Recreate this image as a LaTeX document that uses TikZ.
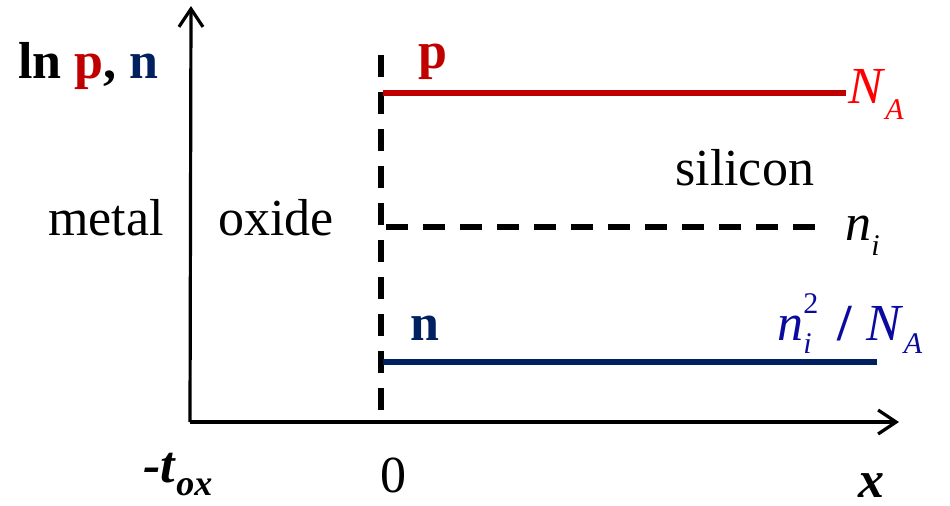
\documentclass[tikz,border=0pt]{standalone}
\usepackage{fontspec}
\setmainfont{Liberation Serif}
\usepackage{xcolor}
\usetikzlibrary{arrows.meta}
\definecolor{dkred}{HTML}{C00000}
\definecolor{brred}{HTML}{FF0000}
\definecolor{navy}{HTML}{002060}
\definecolor{dkblue}{HTML}{0A0AA0}
\newcommand{\lowidx}[2][8pt]{\raisebox{-#1}{\fontsize{15}{15}\selectfont #2}}
\newcommand{\highidx}[2][13.5pt]{\raisebox{#1}{\fontsize{15}{15}\selectfont #2}}

\begin{document}
\begin{tikzpicture}[x=0.5pt,y=-0.5pt,font=\fontsize{26}{30}\selectfont,
  ax/.style={line width=1.6pt,-{Straight Barb[length=9pt,width=12pt,line width=1.6pt]}},
  lvl/.style={line width=3pt},
  dsh/.style={line width=2.8pt,dash pattern=on 11pt off 7.5pt},
  lbl/.style={inner sep=0pt,anchor=base west}]
\useasboundingbox (0,0) rectangle (950,505);

% axes
\coordinate (o) at (190,422);
\coordinate (ytop) at (191,6);
\coordinate (xend) at (899,422);
\draw[ax] (o) -- (ytop);
\draw[ax] (o) -- (xend);

% oxide / silicon interface
\coordinate (s0) at (381,55);
\coordinate (s1) at (381,415);
\draw[dsh] (s0) -- (s1);

% carrier levels
\coordinate (pa) at (383,93);   \coordinate (pb) at (846,93);
\coordinate (ia) at (386,227);  \coordinate (ib) at (818,227);
\coordinate (na0) at (383,362); \coordinate (nb0) at (877,362);
\draw[lvl,dkred] (pa) -- (pb);
\draw[dsh] (ia) -- (ib);
\draw[lvl,navy] (na0) -- (nb0);

% labels
\node[lbl] (ylab) at (18,78) {\textbf{ln \textcolor{dkred}{p}, \textcolor{navy}{n}}};
\node[lbl] (metal) at (48,235) {metal};
\node[lbl] (oxide) at (218,235) {oxide};
\node[lbl] (si) at (675,185) {silicon};
\node[lbl,text=dkred] (plab) at (418,68) {\textbf{p}};
\node[lbl,text=navy] (nlab) at (410,340) {\textbf{n}};
\node[lbl,text=brred] (na) at (848,103) {\textit{N}\lowidx{\textit{A}}};
\node[lbl] (ni) at (845,240) {\textit{n}\lowidx[7.5pt]{\textit{i}}};
\node[lbl,text=dkblue] (nd) at (777,340)
  {\textit{n}\makebox[0pt][l]{\highidx{2}}\lowidx[6.5pt]{\textit{i}}\hspace{13pt}\textbf{/}\hspace{7pt}\textit{N}\lowidx[6.5pt]{\textit{A}}};
\node[lbl] (tox) at (143,482)
  {\textbf{\textit{-t}}\raisebox{-6.5pt}{\fontsize{18}{18}\selectfont\textbf{\textit{ox}}}};
\node[lbl] (zero) at (380,492) {0};
\node[lbl] (xlab) at (858,497) {\textbf{\textit{x}}};
\end{tikzpicture}
\end{document}
